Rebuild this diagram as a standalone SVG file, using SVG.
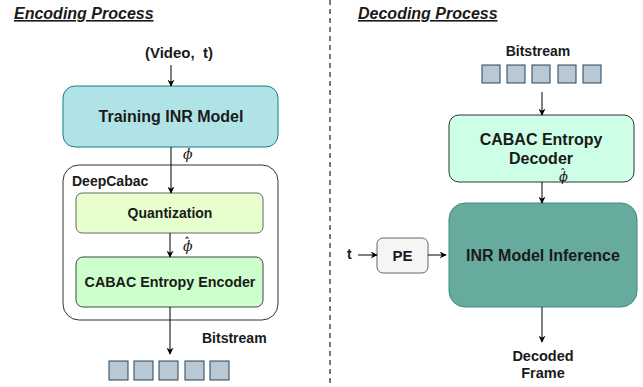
<svg xmlns="http://www.w3.org/2000/svg" width="643" height="387" viewBox="0 0 643 387">
<defs>
<marker id="ah" viewBox="0 0 10 10" refX="9" refY="5" markerWidth="7" markerHeight="7" orient="auto" markerUnits="userSpaceOnUse">
<path d="M0,0 L10,5 L0,10 L3,5 Z" fill="#000"/>
</marker>
</defs>
<style>
text{font-family:"Liberation Sans",Arial,sans-serif;fill:#1a1a1a;}
.t{font-weight:bold;}
.title{font-weight:bold;font-style:italic;font-size:16px;text-decoration:underline;}
.lbl{font-weight:bold;text-anchor:middle;}
.phi{font-family:"DejaVu Serif","Liberation Serif",serif;font-style:italic;fill:#1a1a1a;}
.hat{font-style:normal;font-family:"DejaVu Sans",sans-serif;}
.conn line{stroke:#000;stroke-width:1;marker-end:url(#ah);}
.bit{fill:#bac8d3;stroke:#23445d;stroke-width:1;}
</style>
<rect width="643" height="387" fill="#fff"/>

<line x1="330" y1="0" x2="330" y2="387" stroke="#333" stroke-width="1.3" stroke-dasharray="5,4"/>

<g id="titles">
<text class="title" x="14" y="19">Encoding Process </text>
<text class="title" x="358" y="19">Decoding Process </text>
</g>

<g id="input-video">
<text class="t" x="179" y="58" text-anchor="middle" font-size="15">(Video,&#160; t)</text>
</g>

<g id="training">
<rect x="63" y="86" width="215" height="61" rx="12" fill="#b0e3e6" stroke="#0e8088" stroke-width="1"/>
<text class="lbl" x="171" y="122" font-size="16">Training INR Model</text>
</g>

<g id="deepcabac">
<rect x="63" y="165" width="215" height="155" rx="16" fill="#fff" stroke="#333" stroke-width="1"/>
<text class="t" x="72" y="186" font-size="14">DeepCabac</text>
</g>

<g id="quantization">
<rect x="76" y="193" width="187" height="40" rx="6" fill="#e6ffcc" stroke="#666" stroke-width="1"/>
<text class="lbl" x="170" y="218" font-size="14">Quantization</text>
</g>

<g id="cabac-encoder">
<rect x="76" y="257" width="187" height="50" rx="7" fill="#ccffcc" stroke="#444" stroke-width="1"/>
<text class="lbl" x="170" y="287" font-size="14.3">CABAC Entropy Encoder</text>
</g>

<g id="enc-bitstream">
<text class="t" x="202" y="343" font-size="14">Bitstream</text>
<rect class="bit" x="109" y="361" width="19" height="19"/>
<rect class="bit" x="134" y="361" width="19" height="19"/>
<rect class="bit" x="159" y="361" width="19" height="19"/>
<rect class="bit" x="185" y="361" width="19" height="19"/>
<rect class="bit" x="210" y="361" width="19" height="19"/>
</g>

<g id="dec-bitstream">
<text class="t" x="538" y="56" text-anchor="middle" font-size="14">Bitstream</text>
<rect class="bit" x="482" y="65" width="18" height="18"/>
<rect class="bit" x="507" y="65" width="18" height="18"/>
<rect class="bit" x="532" y="65" width="18" height="18"/>
<rect class="bit" x="558" y="65" width="18" height="18"/>
<rect class="bit" x="583" y="65" width="18" height="18"/>
</g>

<g id="cabac-decoder">
<rect x="449" y="115" width="185" height="67" rx="10" fill="#ccffe6" stroke="#333" stroke-width="1"/>
<text class="lbl" x="541" y="145" font-size="16">CABAC Entropy</text>
<text class="lbl" x="541" y="164" font-size="16">Decoder</text>
</g>

<g id="inr-inference">
<rect x="449" y="203" width="188" height="104" rx="16" fill="#67ab9f" stroke="#3d8a7e" stroke-width="1"/>
<text class="lbl" x="543" y="261" font-size="16">INR Model Inference</text>
</g>

<g id="pe">
<rect x="377" y="238" width="51" height="35" rx="6" fill="#f5f5f5" stroke="#666" stroke-width="1"/>
<text class="lbl" x="402.5" y="261" font-size="15">PE</text>
</g>

<g id="t-input">
<text class="t" x="347" y="259" font-size="14">t</text>
</g>

<g id="decoded-frame">
<text class="lbl" x="543" y="361" font-size="14.5">Decoded</text>
<text class="lbl" x="543" y="378" font-size="14.5">Frame</text>
</g>

<g id="labels">
<text class="phi" x="183" y="159" font-size="14">ϕ</text>
<text class="phi" x="183" y="251" font-size="14">ϕ<tspan class="hat" dx="-8.5" dy="-4" font-size="12">ˆ</tspan></text>
<text class="phi" x="559" y="181" font-size="13">ϕ<tspan class="hat" dx="-8" dy="-4" font-size="11">ˆ</tspan></text>
</g>

<g class="conn" id="connectors">
<line x1="171" y1="65" x2="171" y2="86"/>
<line x1="171" y1="147" x2="171" y2="193"/>
<line x1="170" y1="233" x2="170" y2="257"/>
<line x1="170" y1="307" x2="170" y2="354"/>
<line x1="542" y1="92" x2="542" y2="115"/>
<line x1="542" y1="182" x2="542" y2="203"/>
<line x1="358" y1="255" x2="377" y2="255"/>
<line x1="428" y1="255" x2="446" y2="255"/>
<line x1="542" y1="307" x2="542" y2="342"/>
</g>
</svg>
